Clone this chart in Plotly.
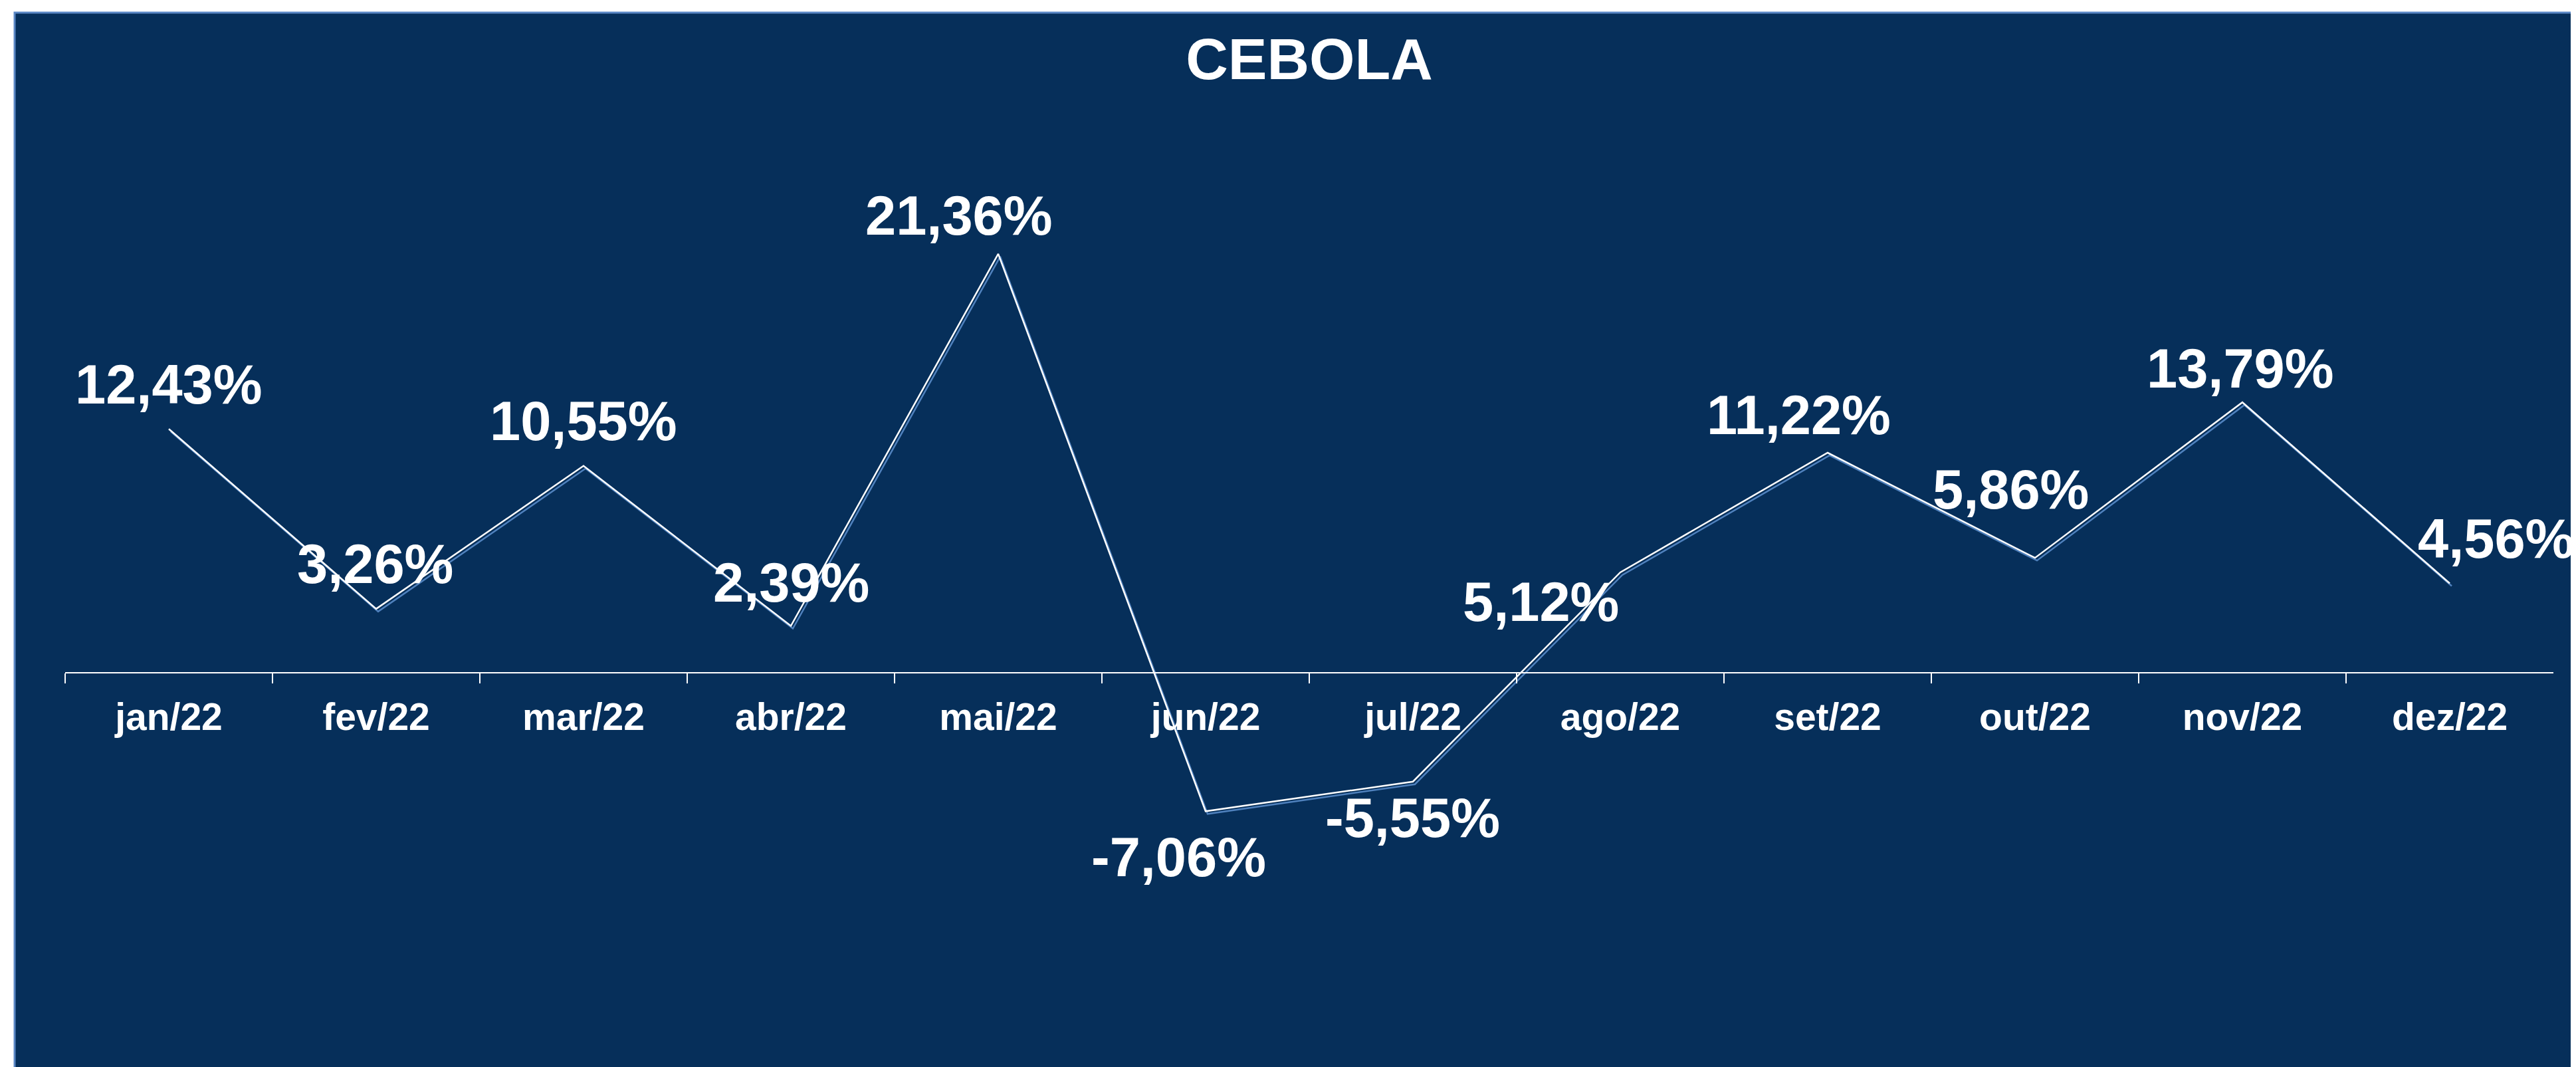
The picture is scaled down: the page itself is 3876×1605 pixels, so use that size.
import plotly.graph_objects as go

# ---- data ----
months = ["jan/22", "fev/22", "mar/22", "abr/22", "mai/22", "jun/22",
          "jul/22", "ago/22", "set/22", "out/22", "nov/22", "dez/22"]
values = [12.43, 3.26, 10.55, 2.39, 21.36, -7.06, -5.55, 5.12, 11.22, 5.86, 13.79, 4.56]
chart_title = "CEBOLA"

# ---- label placement offsets (pixels, style only) ----
label_dx = [0, -2, 0, 0, -59, -41, -1, -120, -44, -37, -3, 69]
label_dy = [67, 67, 67, 65, 57, -69, -55, -45, 57, 103, 51, 67]

# ---- style / geometry ----
W, H = 3876, 1605
OFF = 8  # page body margin
NAVY = "#062F5A"
BORDER = "#5A87C5"
SHADOW = "#4F81BD"
FONT = "Liberation Sans, Arial, sans-serif"

plot_left, plot_right = 98 - OFF, 3842 - OFF
zero_px = 1012 - OFF
px_per_unit = 29.5
y_top = zero_px / px_per_unit
y_bottom = -(H - zero_px) / px_per_unit
n = len(months)
cat_w = (plot_right - plot_left) / n
shadow_dx, shadow_dy = 3, 4
x_dom = [plot_left / W, plot_right / W]

fmt = lambda v: f"{v:.2f}".replace(".", ",") + "%"

fig = go.Figure()

# helper trace so the visible category axis knows its categories
fig.add_trace(go.Scatter(x=months, y=values, mode="markers",
                         marker=dict(opacity=0), hoverinfo="skip",
                         showlegend=False, xaxis="x", yaxis="y"))
# shadow line
fig.add_trace(go.Scatter(x=months, y=values, mode="lines",
                         line=dict(color=SHADOW, width=2.5),
                         hoverinfo="skip", showlegend=False,
                         xaxis="x2", yaxis="y2"))
# main white line
fig.add_trace(go.Scatter(x=months, y=values, mode="lines",
                         line=dict(color="white", width=2.5),
                         showlegend=False, xaxis="x3", yaxis="y3"))

annotations = []
for m, v, dx, dy in zip(months, values, label_dx, label_dy):
    annotations.append(dict(
        x=m, y=v, xref="x3", yref="y3", text=fmt(v), showarrow=False,
        xanchor="center", yanchor="middle", xshift=dx, yshift=dy,
        font=dict(family=FONT, size=83, color="white", weight="bold")))

hidden_x = dict(visible=False, type="category", domain=x_dom, showgrid=False, zeroline=False)
hidden_y = dict(visible=False, showgrid=False, zeroline=False, domain=[0, 1])

fig.update_layout(
    width=W, height=H, autosize=False,
    margin=dict(l=0, r=0, t=0, b=0, pad=0),
    paper_bgcolor="white",
    plot_bgcolor="rgba(0,0,0,0)",
    showlegend=False,
    title=dict(text=chart_title, x=(1970 - OFF) / W, y=1 - (88 - OFF) / H,
               xanchor="center", yanchor="middle",
               xref="paper", yref="paper",
               font=dict(family=FONT, size=88, color="white", weight="bold")),
    xaxis=dict(type="category", domain=x_dom, range=[-0.5, n - 0.5],
               anchor="free", position=1 - zero_px / H,
               showline=True, linecolor="white", linewidth=2,
               ticks="outside", tickson="boundaries", ticklen=15,
               tickwidth=2, tickcolor="white",
               showgrid=False, zeroline=False, ticklabelstandoff=17,
               tickfont=dict(family=FONT, size=57, color="white", weight="bold")),
    yaxis=dict(range=[y_bottom, y_top], domain=[0, 1], visible=False,
               showgrid=False, zeroline=False),
    xaxis2=dict(hidden_x, overlaying="x", anchor="y2",
                range=[-0.5 - shadow_dx / cat_w, n - 0.5 - shadow_dx / cat_w]),
    yaxis2=dict(hidden_y, overlaying="y", anchor="x2",
                range=[y_bottom + shadow_dy / px_per_unit, y_top + shadow_dy / px_per_unit]),
    xaxis3=dict(hidden_x, overlaying="x", anchor="y3", range=[-0.5, n - 0.5]),
    yaxis3=dict(hidden_y, overlaying="y", anchor="x3", range=[y_bottom, y_top]),
    annotations=annotations,
    shapes=[dict(type="rect", xref="paper", yref="paper",
                 x0=(22 - OFF) / W, x1=1.01, y0=-0.01, y1=1 - (19 - OFF) / H,
                 fillcolor=NAVY, line=dict(color=BORDER, width=3),
                 layer="below")],
)

fig.write_html("out.html")
